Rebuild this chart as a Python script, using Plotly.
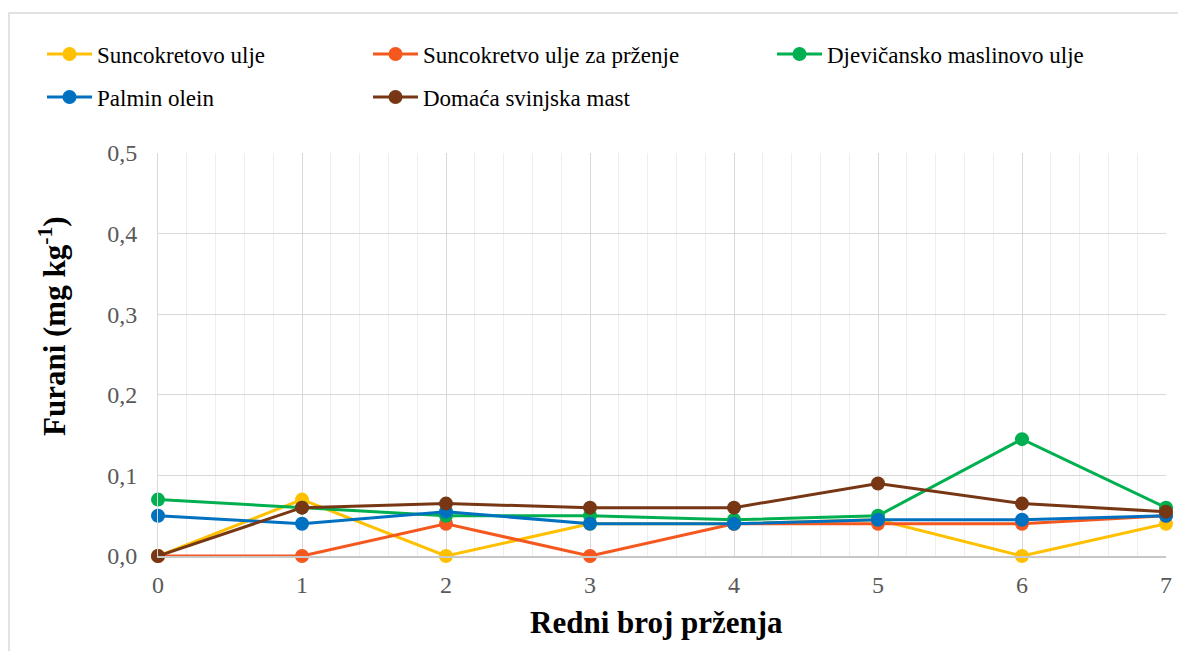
import plotly.graph_objects as go

x_vals = [0, 1, 2, 3, 4, 5, 6, 7]
suncokretovo = [0.0, 0.07, 0.0, 0.04, 0.04, 0.045, 0.0, 0.04]
suncokretovo_przenje = [0.0, 0.0, 0.04, 0.0, 0.04, 0.04, 0.04, 0.05]
maslinovo = [0.07, 0.06, 0.05, 0.05, 0.045, 0.05, 0.145, 0.06]
palmin = [0.05, 0.04, 0.055, 0.04, 0.04, 0.045, 0.045, 0.05]
mast = [0.0, 0.06, 0.065, 0.06, 0.06, 0.09, 0.065, 0.055]

series = [
    ("Suncokretovo ulje", suncokretovo, "#FFC000"),
    ("Suncokretvo ulje za prženje", suncokretovo_przenje, "#F4581E"),
    ("Djevičansko maslinovo ulje", maslinovo, "#00B050"),
    ("Palmin olein", palmin, "#0070C0"),
    ("Domaća svinjska mast", mast, "#773714"),
]

# the page body adds an 8px offset; work in page pixels and convert
OFF = 8
W, H = 1186 - OFF, 651 - OFF
PL, PR, PT, PB = 158 - OFF, 1166 - OFF, 153 - OFF, 556 - OFF
PW, PH = PR - PL, PB - PT


def paper_x(px):
    return (px - OFF - PL) / PW


def paper_y(py):
    return (PB - (py - OFF)) / PH


# legend slot positions in figure pixels (left, center-y)
legend_pos = [(34, 46), (360, 46), (764, 46), (34, 89), (360, 89)]

font = "Liberation Serif"
fig = go.Figure()
layout_legends = {}
for i, (name, vals, col) in enumerate(series):
    lname = "legend" if i == 0 else f"legend{i + 1}"
    fig.add_trace(go.Scatter(
        x=x_vals, y=vals, name=name, mode="lines+markers",
        line=dict(color=col, width=3),
        marker=dict(color=col, size=14),
        cliponaxis=False, legend=lname,
    ))
    lx, ly = legend_pos[i]
    layout_legends[lname] = dict(
        xref="container", yref="container",
        x=lx / W, y=1 - ly / H, xanchor="left", yanchor="middle",
        orientation="h", itemwidth=45,
        font=dict(family=font, size=23, color="#000000"),
        bgcolor="rgba(0,0,0,0)",
    )

fig.update_layout(
    width=W, height=H,
    margin=dict(l=PL, r=W - PR, t=PT, b=H - PB, autoexpand=False),
    paper_bgcolor="white", plot_bgcolor="white",
    separators=",.",
    font=dict(family=font, color="#000000"),
    showlegend=True,
    xaxis=dict(
        range=[0, 7], tickmode="array", tickvals=x_vals,
        ticktext=[str(v) for v in x_vals],
        showgrid=True, gridcolor="#D9D9D9", gridwidth=1,
        minor=dict(dtick=0.2, showgrid=True, gridcolor="#EEEEEE", gridwidth=1),
        showline=True, linecolor="#C8C8C8", linewidth=1.5,
        zeroline=False,
        tickfont=dict(family=font, size=24, color="#595959"),
        ticks="", ticklabelstandoff=6,
    ),
    yaxis=dict(
        range=[0, 0.5], dtick=0.1, tickformat=".1f",
        showgrid=True, gridcolor="#D9D9D9", gridwidth=1,
        showline=True, linecolor="#D9D9D9", linewidth=1,
        zeroline=False,
        tickfont=dict(family=font, size=24, color="#595959"),
        ticks="", ticklabelstandoff=15,
    ),
    annotations=[
        dict(text="<b>Redni broj prženja</b>", xref="paper", yref="paper",
             x=paper_x(656), y=paper_y(622), xanchor="center", yanchor="middle",
             showarrow=False, font=dict(family=font, size=31, color="#000000")),
        dict(text="<b>Furani (mg kg<sup>-1</sup>)</b>", xref="paper", yref="paper",
             x=paper_x(52), y=paper_y(326), xanchor="center", yanchor="middle",
             textangle=-90, showarrow=False, font=dict(family=font, size=31, color="#000000")),
    ],
    shapes=[dict(
        type="rect", xref="paper", yref="paper",
        x0=paper_x(9), x1=paper_x(1200), y0=paper_y(670), y1=paper_y(13),
        line=dict(color="#D9D9D9", width=1.5), fillcolor="rgba(0,0,0,0)", layer="below",
    )],
    **layout_legends,
)

fig.write_html("out.html")
